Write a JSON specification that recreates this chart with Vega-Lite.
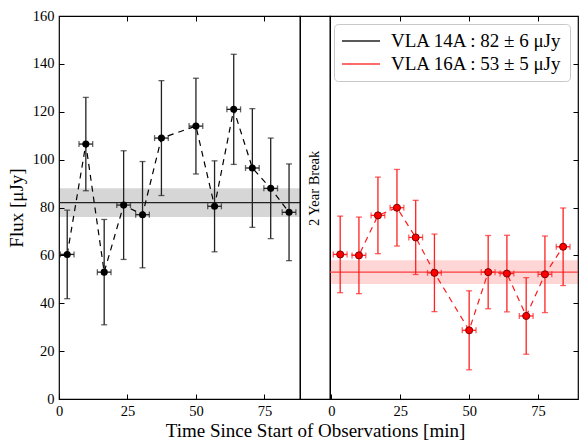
{
  "$schema": "https://vega.github.io/schema/vega-lite/v6.json",
  "padding": {"left": 6, "top": 7, "right": 0, "bottom": 0},
  "bounds": "flush",
  "spacing": 0,
  "background": "white",
  "config": {
    "font": "Liberation Serif",
    "view": {"stroke": "#000000", "strokeWidth": 1.2},
    "axis": {
      "grid": false, "domain": false, "tickColor": "#000000", "tickSize": -5, "tickWidth": 1,
      "labelPadding": 10, "labelFontSize": 14.5, "labelColor": "#000000", "labelFont": "Liberation Serif",
      "labelFlush": false, "titleFont": "Liberation Serif", "titleFontWeight": "normal",
      "titleColor": "#000000", "titleFontSize": 19
    }
  },
  "datasets": {
    "d14": [
      {"t": 3.0, "flux": 60.4, "err": 18.5, "terr": 2.5},
      {"t": 9.8, "flux": 106.5, "err": 19.5, "terr": 2.5},
      {"t": 16.5, "flux": 53.0, "err": 22.0, "terr": 2.5},
      {"t": 23.6, "flux": 81.0, "err": 22.7, "terr": 2.5},
      {"t": 30.5, "flux": 77.0, "err": 22.2, "terr": 2.5},
      {"t": 37.4, "flux": 109.0, "err": 24.0, "terr": 2.5},
      {"t": 50.0, "flux": 114.0, "err": 20.0, "terr": 2.5},
      {"t": 56.8, "flux": 80.5, "err": 19.0, "terr": 2.5},
      {"t": 63.8, "flux": 121.0, "err": 23.0, "terr": 2.5},
      {"t": 70.6, "flux": 96.5, "err": 24.8, "terr": 2.5},
      {"t": 77.3, "flux": 88.0, "err": 21.0, "terr": 2.5},
      {"t": 84.0, "flux": 78.0, "err": 20.2, "terr": 2.5}
    ],
    "d16": [
      {"t": 3.2, "flux": 60.4, "err": 16.0, "terr": 2.5},
      {"t": 10.0, "flux": 60.0, "err": 16.0, "terr": 2.5},
      {"t": 16.9, "flux": 76.7, "err": 16.0, "terr": 2.5},
      {"t": 23.8, "flux": 79.9, "err": 16.0, "terr": 2.5},
      {"t": 30.6, "flux": 67.5, "err": 15.5, "terr": 2.5},
      {"t": 37.4, "flux": 52.7, "err": 16.2, "terr": 2.5},
      {"t": 50.0, "flux": 28.7, "err": 16.5, "terr": 2.5},
      {"t": 56.9, "flux": 53.0, "err": 15.3, "terr": 2.5},
      {"t": 63.7, "flux": 52.4, "err": 16.0, "terr": 2.5},
      {"t": 70.7, "flux": 34.7, "err": 16.0, "terr": 2.5},
      {"t": 77.5, "flux": 52.1, "err": 16.0, "terr": 2.5},
      {"t": 84.1, "flux": 63.6, "err": 16.2, "terr": 2.5}
    ],
    "m14": [{"label": "VLA 14A : 82 ± 6 μJy", "mean": 82, "lo": 76, "hi": 88}],
    "m16": [{"label": "VLA 16A : 53 ± 5 μJy", "mean": 53, "lo": 48, "hi": 58}],
    "brk": [{"label": "2 Year Break", "x": 0.5, "y": 88}]
  },
  "resolve": {"scale": {"x": "independent", "y": "independent", "color": "shared"}, "legend": {"color": "independent"}},
  "hconcat": [
    {
      "width": 241, "height": 383,
      "resolve": {"axis": {"x": "independent", "y": "independent"}},
      "layer": [
        {
          "data": {"name": "m14"},
          "mark": {"type": "rect", "color": "#000000", "opacity": 0.16},
          "encoding": {
            "y": {"field": "lo", "type": "quantitative", "scale": {"domain": [0, 160], "nice": false},
                  "axis": {"orient": "left", "values": [0, 20, 40, 60, 80, 100, 120, 140, 160], "title": "Flux [μJy]", "titlePadding": 6}},
            "y2": {"field": "hi"}
          }
        },
        {
          "data": {"name": "m14"},
          "mark": {"type": "rule", "strokeWidth": 1.3},
          "encoding": {
            "y": {"field": "mean", "type": "quantitative", "axis": null},
            "color": {"field": "label", "type": "nominal",
                      "scale": {"domain": ["VLA 14A : 82 ± 6 μJy", "VLA 16A : 53 ± 5 μJy"], "range": ["#222222", "#ff3b3b"]},
                      "legend": null}
          }
        },
        {
          "data": {"name": "d14"},
          "mark": {"type": "line", "strokeDash": [6, 5], "color": "#000000", "strokeWidth": 1.2},
          "encoding": {
            "x": {"field": "t", "type": "quantitative", "scale": {"domain": [0, 88], "nice": false, "zero": false},
                  "axis": {"orient": "bottom", "values": [0, 25, 50, 75], "title": null}},
            "y": {"field": "flux", "type": "quantitative", "axis": null}
          }
        },
        {
          "data": {"name": "d14"},
          "mark": {"type": "errorbar", "ticks": {"size": 6}, "color": "#222222", "thickness": 1.3},
          "encoding": {
            "x": {"field": "t", "type": "quantitative", "axis": {"orient": "top", "values": [25, 50, 75], "labels": false, "title": null}},
            "y": {"field": "flux", "type": "quantitative", "axis": null},
            "yError": {"field": "err"}
          }
        },
        {
          "data": {"name": "d14"},
          "mark": {"type": "errorbar", "ticks": {"size": 6}, "color": "#222222", "thickness": 1.3},
          "encoding": {
            "x": {"field": "t", "type": "quantitative", "axis": null},
            "xError": {"field": "terr"},
            "y": {"field": "flux", "type": "quantitative", "axis": null}
          }
        },
        {
          "data": {"name": "d14"},
          "mark": {"type": "point", "filled": true, "size": 50, "color": "#000000", "opacity": 1},
          "encoding": {
            "x": {"field": "t", "type": "quantitative", "axis": null},
            "y": {"field": "flux", "type": "quantitative", "axis": null}
          }
        }
      ]
    },
    {
      "width": 30, "height": 383,
      "data": {"name": "brk"},
      "mark": {"type": "text", "angle": 270, "fontSize": 14.5, "font": "Liberation Serif", "color": "#000000", "baseline": "middle", "align": "center"},
      "encoding": {
        "x": {"field": "x", "type": "quantitative", "scale": {"domain": [0, 1]},
              "axis": {"title": "Time Since Start of Observations [min]", "labels": false, "ticks": false, "domain": false, "titlePadding": 22}},
        "y": {"field": "y", "type": "quantitative", "scale": {"domain": [0, 160]}, "axis": null},
        "text": {"field": "label"}
      }
    },
    {
      "width": 248, "height": 383,
      "resolve": {"axis": {"x": "independent", "y": "independent"}},
      "layer": [
        {
          "data": {"name": "m16"},
          "mark": {"type": "rect", "color": "#ff0000", "opacity": 0.16},
          "encoding": {
            "y": {"field": "lo", "type": "quantitative", "scale": {"domain": [0, 160], "nice": false},
                  "axis": {"orient": "right", "values": [20, 40, 60, 80, 100, 120, 140], "labels": false, "title": null}},
            "y2": {"field": "hi"}
          }
        },
        {
          "data": {"name": "m16"},
          "mark": {"type": "rule", "strokeWidth": 1.3},
          "encoding": {
            "y": {"field": "mean", "type": "quantitative", "axis": null},
            "color": {"field": "label", "type": "nominal",
                      "scale": {"domain": ["VLA 14A : 82 ± 6 μJy", "VLA 16A : 53 ± 5 μJy"], "range": ["#222222", "#ff3b3b"]},
                      "legend": {"orient": "top-right", "title": null, "offset": 8, "padding": 7,
                                 "fillColor": "#ffffff", "strokeColor": "#c8c8c8", "cornerRadius": 4,
                                 "labelFontSize": 19, "labelFont": "Liberation Serif", "labelColor": "#000000",
                                 "labelLimit": 400, "labelOffset": 10, "clipHeight": 20, "rowPadding": 3,
                                 "symbolType": "stroke", "symbolSize": 1444, "symbolStrokeWidth": 1.5}}
          }
        },
        {
          "data": {"name": "d16"},
          "mark": {"type": "line", "strokeDash": [6, 5], "color": "#ff1a1a", "strokeWidth": 1.2},
          "encoding": {
            "x": {"field": "t", "type": "quantitative", "scale": {"domain": [-0.5, 89.5], "nice": false, "zero": false},
                  "axis": {"orient": "bottom", "values": [0, 25, 50, 75], "title": null}},
            "y": {"field": "flux", "type": "quantitative", "axis": null}
          }
        },
        {
          "data": {"name": "d16"},
          "mark": {"type": "errorbar", "ticks": {"size": 6}, "color": "#ff2020", "thickness": 1.3},
          "encoding": {
            "x": {"field": "t", "type": "quantitative", "axis": {"orient": "top", "values": [25, 50, 75], "labels": false, "title": null}},
            "y": {"field": "flux", "type": "quantitative", "axis": null},
            "yError": {"field": "err"}
          }
        },
        {
          "data": {"name": "d16"},
          "mark": {"type": "errorbar", "ticks": {"size": 6}, "color": "#ff2020", "thickness": 1.3},
          "encoding": {
            "x": {"field": "t", "type": "quantitative", "axis": null},
            "xError": {"field": "terr"},
            "y": {"field": "flux", "type": "quantitative", "axis": null}
          }
        },
        {
          "data": {"name": "d16"},
          "mark": {"type": "point", "filled": true, "size": 50, "fill": "#ff0000", "stroke": "#800000", "strokeWidth": 1, "opacity": 1},
          "encoding": {
            "x": {"field": "t", "type": "quantitative", "axis": null},
            "y": {"field": "flux", "type": "quantitative", "axis": null}
          }
        }
      ]
    }
  ]
}
